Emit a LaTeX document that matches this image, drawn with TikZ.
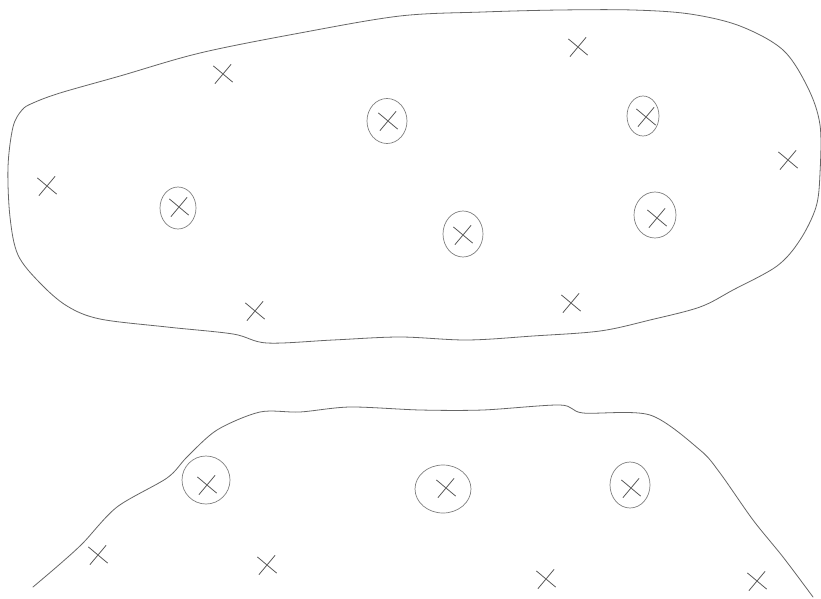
\documentclass[tikz,border=0pt]{standalone}
\usetikzlibrary{shapes.misc,shapes.geometric}
\begin{document}
\begin{tikzpicture}[x=1pt,y=-1pt,
  ink/.style={draw=black!60,line width=0.8pt,line cap=round,line join=round},
  xmark/.style={cross out,draw=black!65,line width=0.8pt,minimum width=17pt,minimum height=17pt,inner sep=0pt,rotate=5},
  ring/.style={ellipse,draw=black!50,line width=0.7pt,inner sep=0pt}]
\useasboundingbox (0,0) rectangle (821,599);
\fill[white] (0,0) rectangle (821,599);
% upper outline
\draw[ink] plot[smooth cycle,tension=0.55] coordinates {
 (33,103) (60,93) (120,76) (200,53) (300,33) (400,16) (483,12) (560,10) (633,10)
 (690,14) (740,26) (783,50) (808,88) (820,125) (820,173) (816,207) (800,240) (777,266)
 (733,290) (700,307) (650,320) (600,331) (533,336) (467,340) (400,337) (333,340)
 (267,343) (233,334) (167,327) (100,319) (67,306) (40,283) (18,255) (10,217)
 (8,167) (13,127) (22,110)};
% lower outline
\draw[ink] plot[smooth,tension=0.5] coordinates {
 (33,587) (60,564) (83,543) (117,507) (167,478) (187,457) (217,430) (260,412)
 (300,412) (350,407) (420,410) (483,410) (560,405) (583,413) (650,415)
 (700,450) (720,473) (753,520) (783,557) (813,597)};
% upper marks
\node[xmark] (u1) at (223,74) {};
\node[xmark] (u2) at (578,47) {};
\node[xmark] (u3) at (388,121) {};
\node[xmark] (u4) at (646,117) {};
\node[xmark] (u5) at (788,160) {};
\node[xmark] (u6) at (47,186) {};
\node[xmark] (u7) at (179,207) {};
\node[xmark] (u8) at (463,235) {};
\node[xmark] (u9) at (657,218) {};
\node[xmark] (u10) at (255,311) {};
\node[xmark] (u11) at (571,303) {};
% rings upper
\node[ring,minimum width=40pt,minimum height=45pt] (r3) at (387,121) {};
\node[ring,minimum width=32pt,minimum height=40pt] (r4) at (643,116) {};
\node[ring,minimum width=36pt,minimum height=42pt] (r7) at (178,208) {};
\node[ring,minimum width=40pt,minimum height=46pt] (r8) at (463,234) {};
\node[ring,minimum width=42pt,minimum height=46pt] (r9) at (655,215) {};
% lower marks
\node[xmark] (l1) at (207,485) {};
\node[xmark] (l2) at (446,488) {};
\node[xmark] (l3) at (631,488) {};
\node[xmark] (l4) at (98,555) {};
\node[xmark] (l5) at (267,565) {};
\node[xmark] (l6) at (546,579) {};
\node[xmark] (l7) at (757,581) {};
% rings lower
\node[ring,minimum width=48pt,minimum height=48pt] (s1) at (206,480) {};
\node[ring,minimum width=56pt,minimum height=48pt] (s2) at (443,489) {};
\node[ring,minimum width=40pt,minimum height=46pt] (s3) at (630,485) {};
\end{tikzpicture}
\end{document}
